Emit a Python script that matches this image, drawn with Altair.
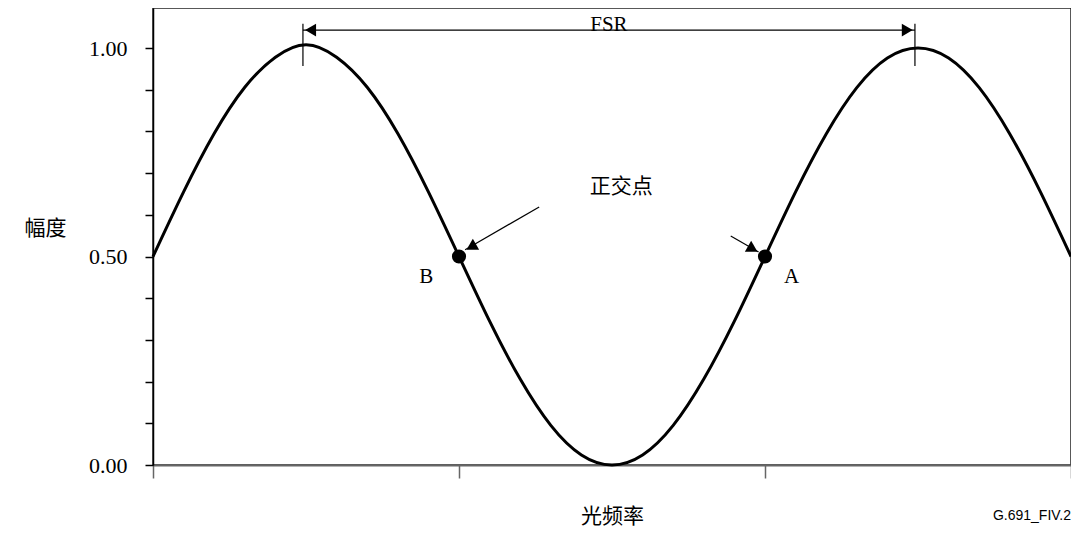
import altair as alt
import pandas as pd

# ---- curve ----
curve_x = [round(i * 0.1, 1) for i in range(31)]
curve_y = [0.500, 0.655, 0.795, 0.906, 0.978, 1.008, 0.978, 0.906, 0.795, 0.655,
           0.500, 0.345, 0.206, 0.095, 0.024, 0.000, 0.024, 0.095, 0.206, 0.345,
           0.500, 0.655, 0.794, 0.905, 0.976, 1.000, 0.976, 0.905, 0.794, 0.655, 0.500]

# ---- orthogonal points ----
pt_x = [1.0, 2.0]
pt_y = [0.50, 0.50]
pt_label = ["B", "A"]
lab_x = [0.893, 2.087]
lab_y = [0.45, 0.45]

# ---- FSR annotation ----
fsr_x = [0.49, 2.49]
fsr_line_y = 1.043
fsr_tick_y = [0.957, 1.058]
fsr_head_x = [0.515, 2.465]
fsr_head_shape = ["triangle-left", "triangle-right"]
fsr_text_x = 1.49
fsr_text_y = 1.042

# ---- 正交点 arrows ----
arr_x = [1.262, 1.888]
arr_y = [0.619, 0.549]
arr_x2 = [1.020, 1.979]
arr_y2 = [0.516, 0.511]
head_x = [1.040, 1.960]
head_y = [0.523, 0.518]
head_angle = [240, 120]
ortho_text_x = 1.53
ortho_text_y = 0.667

code_text = "G.691_FIV.2"
code_x = 3.0
code_y = -0.123

x_ticks = [0, 1, 2, 3]
y_ticks = [round(i * 0.1, 1) for i in range(11)]

XS = alt.Scale(domain=[0, 3], nice=False, zero=False)
YS = alt.Scale(domain=[0, 1.096], nice=False, zero=False)

AX = alt.Axis(
    values=x_ticks, labels=False, grid=False, tickSize=13, tickColor="#666", tickWidth=1.5,
    domainColor="#666", domainWidth=2, title="光频率", titleFont="Noto Sans CJK SC",
    titleFontSize=21, titleFontWeight="normal", titleColor="black", titleY=51,
    titleBaseline="middle")
AY = alt.Axis(
    values=y_ticks, grid=False, tickSize=8, tickColor="black", tickWidth=1.5,
    domainColor="black", domainWidth=1.5,
    labelExpr="(datum.value == 0 || datum.value == 0.5 || datum.value == 1) ? format(datum.value, '.2f') : ''",
    labelFont="Liberation Serif", labelFontSize=22, labelColor="black", labelPadding=18,
    title="幅度", titleAngle=0, titleX=-108, titleY=220, titleAlign="center",
    titleBaseline="middle", titleFont="Noto Sans CJK SC", titleFontSize=21,
    titleFontWeight="normal", titleColor="black")

curve_df = pd.DataFrame({"x": curve_x, "y": curve_y})
pts_df = pd.DataFrame({"x": pt_x, "y": pt_y})
lab_df = pd.DataFrame({"x": lab_x, "y": lab_y, "t": pt_label})
fsr_tick_df = pd.DataFrame({"x": fsr_x, "y": [fsr_tick_y[0]] * 2, "y2": [fsr_tick_y[1]] * 2})
fsr_line_df = pd.DataFrame({"x": [fsr_x[0]], "x2": [fsr_x[1]], "y": [fsr_line_y]})
fsr_head_df = pd.DataFrame({"x": fsr_head_x, "y": [fsr_line_y] * 2, "s": fsr_head_shape})
arr_df = pd.DataFrame({"x": arr_x, "y": arr_y, "x2": arr_x2, "y2": arr_y2})
head_df = pd.DataFrame({"x": head_x, "y": head_y, "a": head_angle})
txt_df = pd.DataFrame({"x": [fsr_text_x], "y": [fsr_text_y], "t": ["FSR"]})
ortho_df = pd.DataFrame({"x": [ortho_text_x], "y": [ortho_text_y], "t": ["正交点"]})
code_df = pd.DataFrame({"x": [code_x], "y": [code_y], "t": [code_text]})


def X(f="x"):
    return alt.X(f + ":Q", scale=XS, axis=AX)


def Y(f="y"):
    return alt.Y(f + ":Q", scale=YS, axis=AY)


curve = alt.Chart(curve_df).mark_line(color="black", strokeWidth=3, interpolate="natural").encode(
    x=X(), y=Y())
points = alt.Chart(pts_df).mark_circle(color="black", opacity=1, size=200).encode(x=X(), y=Y())
labels = alt.Chart(lab_df).mark_text(font="Liberation Serif", fontSize=21, color="black",
                                     baseline="middle", align="center").encode(x=X(), y=Y(), text="t:N")
fsr_ticks = alt.Chart(fsr_tick_df).mark_rule(color="black", strokeWidth=1.2).encode(
    x=X(), y=Y(), y2="y2:Q")
fsr_line = alt.Chart(fsr_line_df).mark_rule(color="black", strokeWidth=1.2).encode(
    x=X(), x2="x2:Q", y=Y())
fsr_heads = alt.Chart(fsr_head_df).mark_point(filled=True, color="black", opacity=1, size=160).encode(
    x=X(), y=Y(), shape=alt.Shape("s:N", scale=None))
fsr_text = alt.Chart(txt_df).mark_text(font="Liberation Serif", fontSize=21, color="black",
                                       baseline="alphabetic", align="center").encode(x=X(), y=Y(), text="t:N")
arrows = alt.Chart(arr_df).mark_rule(color="black", strokeWidth=1.2).encode(
    x=X(), y=Y(), x2="x2:Q", y2="y2:Q")
heads = alt.Chart(head_df).mark_point(filled=True, color="black", opacity=1, size=160,
                                      shape="triangle-up").encode(
    x=X(), y=Y(), angle=alt.Angle("a:Q", scale=None))
ortho = alt.Chart(ortho_df).mark_text(font="Noto Sans CJK SC", fontSize=21, color="black",
                                      baseline="middle", align="center").encode(x=X(), y=Y(), text="t:N")
code = alt.Chart(code_df).mark_text(font="Liberation Sans", fontSize=14, color="black",
                                    baseline="middle", align="right").encode(x=X(), y=Y(), text="t:N")

chart = alt.layer(curve, fsr_ticks, fsr_line, fsr_heads, fsr_text, arrows, heads, ortho,
                  points, labels, code).properties(
    width=918, height=457,
    autosize=alt.AutoSizeParams(type="none"),
    padding={"left": 145, "top": 0, "right": 0, "bottom": 62},
    background="white",
).configure_view(stroke="#222", strokeWidth=1.5)

chart.save("out.html", embed_options={"renderer": "svg", "actions": False})
